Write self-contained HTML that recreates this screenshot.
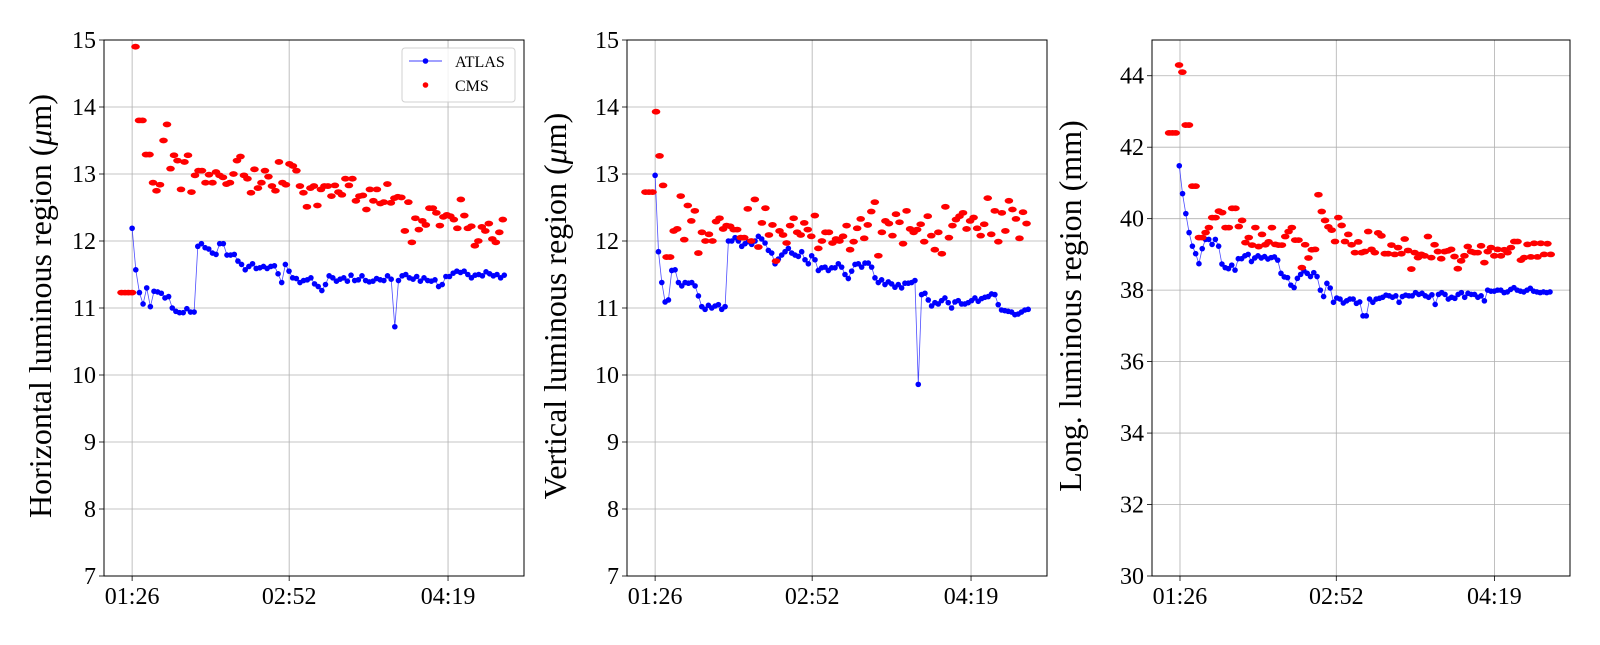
<!DOCTYPE html>
<html><head><meta charset="utf-8"><style>
html,body{margin:0;padding:0;background:#fff;}
svg text{font-family:"Liberation Serif",serif;fill:#000;}
</style></head><body>
<svg id="fig" xmlns="http://www.w3.org/2000/svg" width="1600" height="640" viewBox="0 0 1600 640"></svg>
<script>
// ---- data (times in minutes after 01:26) ----
const xTickLabels = ["01:26","02:52","04:19"];
const xTickMinutes = [0,86,173];

const p1YTicks = [7,8,9,10,11,12,13,14,15];
const p1AtlasSpan = [0,203.8];
const p1Atlas = [12.19,11.57,11.23,11.06,11.3,11.02,11.25,11.24,11.22,11.15,11.17,11.0,10.95,10.93,10.93,10.99,10.94,10.94,11.92,11.96,11.9,11.88,11.82,11.8,11.96,11.96,11.79,11.79,11.8,11.7,11.65,11.57,11.62,11.66,11.59,11.6,11.62,11.59,11.62,11.63,11.51,11.38,11.65,11.55,11.45,11.44,11.38,11.41,11.42,11.45,11.36,11.32,11.26,11.35,11.48,11.45,11.4,11.43,11.45,11.4,11.49,11.41,11.42,11.48,11.41,11.39,11.4,11.44,11.42,11.41,11.48,11.43,10.72,11.41,11.48,11.5,11.45,11.43,11.47,11.4,11.45,11.41,11.4,11.42,11.32,11.35,11.47,11.47,11.52,11.55,11.53,11.55,11.5,11.45,11.49,11.5,11.48,11.54,11.51,11.48,11.5,11.45,11.49];
const p1CmsSpan = [-5.8,203];
const p1Cms = [11.23,11.23,11.23,11.23,14.9,13.8,13.8,13.29,13.29,12.87,12.75,12.84,13.5,13.74,13.08,13.28,13.2,12.77,13.18,13.28,12.73,12.98,13.05,13.05,12.87,12.99,12.87,13.03,12.98,12.95,12.85,12.87,13.0,13.2,13.26,12.98,12.93,12.72,13.07,12.79,12.87,13.05,12.96,12.82,12.75,13.18,12.87,12.84,13.15,13.12,13.05,12.82,12.72,12.51,12.79,12.82,12.53,12.77,12.82,12.82,12.67,12.83,12.73,12.69,12.93,12.83,12.93,12.6,12.67,12.68,12.47,12.77,12.6,12.77,12.56,12.58,12.85,12.57,12.64,12.66,12.65,12.15,12.58,11.98,12.34,12.17,12.3,12.24,12.49,12.49,12.42,12.23,12.36,12.39,12.37,12.32,12.19,12.62,12.38,12.19,12.22,11.93,12.0,12.21,12.15,12.26,12.03,11.98,12.13,12.32];

const p2YTicks = [7,8,9,10,11,12,13,14,15];
const p2AtlasSpan = [0,204.3];
const p2Atlas = [12.98,11.84,11.38,11.09,11.12,11.56,11.57,11.38,11.33,11.38,11.37,11.38,11.33,11.18,11.02,10.98,11.04,11.0,11.03,11.05,10.98,11.02,12.0,12.0,12.05,12.0,11.92,11.96,11.99,11.95,12.0,12.07,12.03,11.97,11.86,11.82,11.66,11.73,11.79,11.84,11.89,11.82,11.79,11.77,11.84,11.72,11.66,11.78,11.72,11.56,11.6,11.61,11.56,11.6,11.6,11.66,11.61,11.5,11.44,11.55,11.65,11.66,11.61,11.67,11.67,11.61,11.45,11.38,11.42,11.35,11.39,11.36,11.31,11.35,11.3,11.37,11.37,11.38,11.41,9.86,11.2,11.22,11.12,11.03,11.08,11.06,11.11,11.15,11.08,11.0,11.09,11.11,11.06,11.06,11.08,11.11,11.15,11.1,11.14,11.16,11.17,11.21,11.2,11.05,10.97,10.96,10.95,10.94,10.9,10.91,10.94,10.97,10.98];
const p2CmsSpan = [-5.3,203.4];
const p2Cms = [12.73,12.73,12.73,13.93,13.27,12.83,11.76,11.76,12.15,12.18,12.67,12.02,12.53,12.3,12.45,11.82,12.13,12.0,12.1,12.0,12.29,12.34,12.18,12.23,12.22,12.17,12.17,12.05,12.05,12.48,12.0,12.62,11.91,12.27,12.49,12.09,12.24,11.7,12.15,12.09,11.97,12.23,12.34,12.13,12.09,12.27,12.17,12.07,12.38,11.89,12.0,12.13,12.13,11.97,12.03,12.0,12.07,12.23,11.87,11.99,12.19,12.33,12.04,12.24,12.44,12.58,11.78,12.13,12.3,12.26,12.08,12.4,12.28,11.96,12.45,12.18,12.13,12.17,12.25,11.99,12.37,12.08,11.87,12.13,11.81,12.51,12.05,12.23,12.32,12.37,12.42,12.18,12.3,12.35,12.19,12.08,12.25,12.64,12.1,12.45,11.99,12.42,12.15,12.6,12.47,12.33,12.04,12.43,12.26];

const p3YTicks = [30,32,34,36,38,40,42,44];
const p3AtlasSpan = [-0.4,203.6];
const p3Atlas = [41.48,40.7,40.14,39.61,39.23,39.02,38.74,39.16,39.42,39.42,39.28,39.42,39.23,38.73,38.63,38.6,38.7,38.56,38.88,38.88,38.96,39.0,38.8,38.9,38.96,38.9,38.94,38.87,38.91,38.93,38.84,38.47,38.37,38.35,38.14,38.07,38.33,38.44,38.54,38.47,38.38,38.49,38.38,38.0,37.82,38.19,38.06,37.66,37.78,37.75,37.64,37.7,37.75,37.75,37.63,37.67,37.28,37.28,37.75,37.66,37.75,37.77,37.8,37.86,37.84,37.8,37.84,37.66,37.82,37.86,37.84,37.84,37.93,37.88,37.91,37.84,37.8,37.87,37.6,37.88,37.93,37.88,37.75,37.8,37.77,37.88,37.93,37.8,37.91,37.88,37.88,37.8,37.84,37.7,38.0,37.97,37.97,38.0,38.0,37.93,37.95,38.02,38.07,38.0,37.97,37.95,38.0,38.05,37.97,37.95,37.93,37.95,37.93,37.95];
const p3CmsSpan = [-6.0,204];
const p3Cms = [42.4,42.4,42.4,44.3,44.1,42.62,42.62,40.91,40.91,39.47,39.47,39.61,39.75,40.03,40.03,40.21,40.17,39.75,39.75,40.29,40.29,39.78,39.95,39.33,39.47,39.26,39.75,39.22,39.56,39.27,39.35,39.75,39.28,39.26,39.26,39.5,39.64,39.75,39.4,39.4,38.63,39.27,38.9,39.13,39.14,40.67,40.2,39.95,39.77,39.68,39.36,40.03,39.81,39.36,39.56,39.27,39.05,39.35,39.05,39.08,39.64,39.14,39.05,39.6,39.52,39.02,39.02,39.26,39.0,39.19,39.02,39.43,39.11,38.59,39.05,38.91,39.0,38.96,39.5,38.91,39.27,39.08,38.88,39.08,39.1,39.14,38.94,38.6,38.82,38.96,39.22,39.08,39.05,39.05,39.24,38.77,39.08,39.19,38.96,39.14,38.96,39.13,39.05,39.19,39.36,39.36,38.84,38.91,39.28,38.93,39.31,38.93,39.31,39.0,39.3,39.0];

// ---- drawing ----
const NS = "http://www.w3.org/2000/svg";
const svg = document.getElementById("fig");
const X_MIN = -15.4, X_MAX = 214.6;
const TOP = 40, BOTTOM = 576;

function mk(tag, attrs, parent){
  const e = document.createElementNS(NS, tag);
  for (const k in attrs) e.setAttribute(k, attrs[k]);
  (parent||svg).appendChild(e);
  return e;
}
function timesFor(span, n){
  const out = [];
  for (let i=0;i<n;i++) out.push(span[0] + (span[1]-span[0]) * (n===1?0:i/(n-1)));
  return out;
}

function panel(id, left, right, yTicks, yLabel, labelX, atlasSpan, atlas, cmsSpan, cms){
  const g = mk("g", {});
  
  
  const yMin = yTicks[0], yMax = (id==="panel-longitudinal") ? 45 : yTicks[yTicks.length-1];
  const sx = t => left + (t - X_MIN) / (X_MAX - X_MIN) * (right - left);
  const sy = v => BOTTOM - (v - yMin) / (yMax - yMin) * (BOTTOM - TOP);

  xTickMinutes.forEach((t,i) => {
    const x = sx(t);
    const gl = mk("line", {x1:x, x2:x, y1:TOP, y2:BOTTOM, stroke:"#b0b0b0", "stroke-width":0.8}, g);
    
    
    const tk = mk("line", {x1:x, x2:x, y1:BOTTOM, y2:BOTTOM+5, stroke:"#000", "stroke-width":0.8}, g);
    
    
    const tl = mk("text", {x:x, y:BOTTOM+28, "font-size":24, "text-anchor":"middle"}, g);
    tl.textContent = xTickLabels[i];
    
    
  });
  yTicks.forEach(v => {
    const y = sy(v);
    const gl = mk("line", {x1:left, x2:right, y1:y, y2:y, stroke:"#b0b0b0", "stroke-width":0.8}, g);
    
    
    const tk = mk("line", {x1:left-5, x2:left, y1:y, y2:y, stroke:"#000", "stroke-width":0.8}, g);
    
    
    const tl = mk("text", {x:left-8, y:y+8, "font-size":24, "text-anchor":"end"}, g);
    tl.textContent = String(v);
    
    
  });

  const at = timesFor(atlasSpan, atlas.length);
  const pts = atlas.map((v,i) => sx(at[i]).toFixed(1)+","+sy(v).toFixed(1)).join(" ");
  const pl = mk("polyline", {points:pts, fill:"none", stroke:"#0000ff", "stroke-width":0.8, "stroke-opacity":0.7}, g);
  
  
  atlas.forEach((v,i) => {
    const c = mk("circle", {cx:sx(at[i]), cy:sy(v), r:2.8, fill:"#0000ff"}, g);
    
    
  });
  const ct = timesFor(cmsSpan, cms.length);
  cms.forEach((v,i) => {
    const c = mk("ellipse", {cx:sx(ct[i]), cy:sy(v), rx:4.3, ry:2.9, fill:"#ff0000"}, g);
    
    
  });

  const fr = mk("rect", {x:left, y:TOP, width:right-left, height:BOTTOM-TOP, fill:"none", stroke:"#000", "stroke-width":1}, g);
  
  

  const cy = (TOP+BOTTOM)/2 - 2;
  const yl = mk("text", {x:labelX, y:cy, "font-size":32, "text-anchor":"middle", transform:"rotate(-90 "+labelX+" "+cy+")"}, g);
  yl.innerHTML = yLabel;
  
  
  return g;
}

panel("panel-horizontal", 104, 524, p1YTicks, 'Horizontal luminous region (<tspan font-style="italic">μ</tspan>m)', 51, p1AtlasSpan, p1Atlas, p1CmsSpan, p1Cms);
panel("panel-vertical", 627, 1047, p2YTicks, 'Vertical luminous region (<tspan font-style="italic">μ</tspan>m)', 566, p2AtlasSpan, p2Atlas, p2CmsSpan, p2Cms);
panel("panel-longitudinal", 1152, 1570, p3YTicks, 'Long. luminous region (mm)', 1081, p3AtlasSpan, p3Atlas, p3CmsSpan, p3Cms);

const lg = mk("g", {});


const lb = mk("rect", {x:402, y:48, width:113, height:54, rx:3, fill:"#fff", "fill-opacity":0.8, stroke:"#d0d0d0", "stroke-width":1}, lg);


const ll = mk("line", {x1:409, x2:442, y1:61, y2:61, stroke:"#0000ff", "stroke-width":0.8}, lg);


const lc = mk("circle", {cx:425.5, cy:61, r:2.8, fill:"#0000ff"}, lg);


const lt1 = mk("text", {x:455, y:67, "font-size":16}, lg);
lt1.textContent = "ATLAS";


const lc2 = mk("circle", {cx:425.5, cy:85, r:2.8, fill:"#ff0000"}, lg);


const lt2 = mk("text", {x:455, y:91, "font-size":16}, lg);
lt2.textContent = "CMS";


</script>
</body></html>
